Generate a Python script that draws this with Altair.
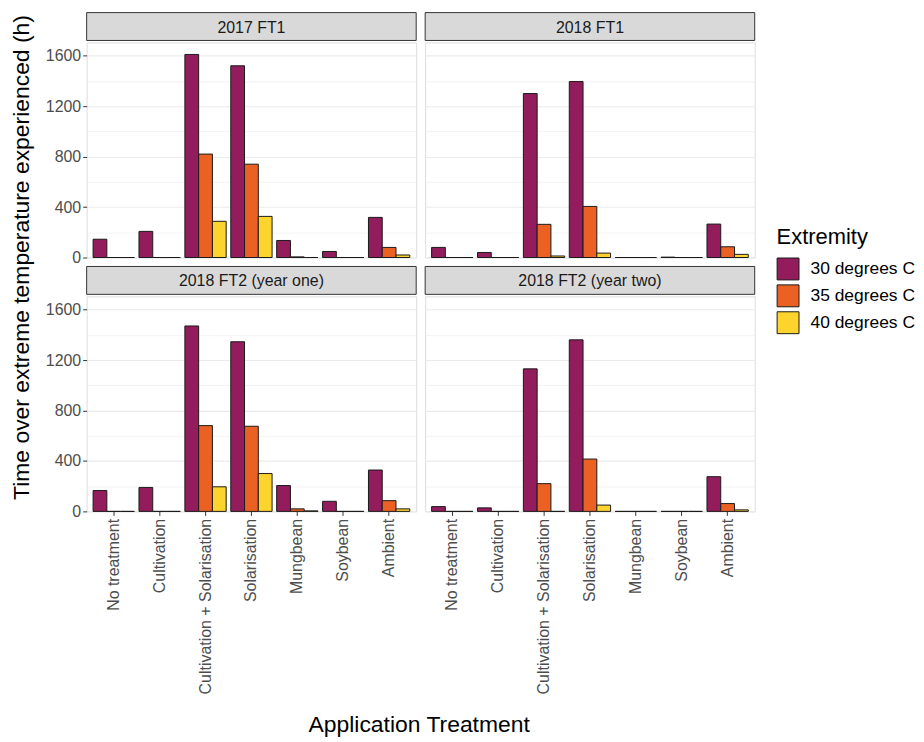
import altair as alt
import pandas as pd

treatments = ["No treatment", "Cultivation", "Cultivation + Solarisation",
              "Solarisation", "Mungbean", "Soybean", "Ambient"]
extremities = ["30 degrees C", "35 degrees C", "40 degrees C"]
colors = ["#921C5C", "#EB6123", "#FDD42E"]

panel_names = ["2017 FT1", "2018 FT1", "2018 FT2 (year one)", "2018 FT2 (year two)"]

ft1_2017_30 = [145, 207, 1610, 1520, 135, 48, 318]
ft1_2017_35 = [0, 0, 820, 740, 5, 0, 80]
ft1_2017_40 = [0, 0, 287, 326, 0, 0, 20]

ft1_2018_30 = [80, 40, 1300, 1395, 0, 3, 265]
ft1_2018_35 = [0, 0, 263, 405, 0, 0, 85]
ft1_2018_40 = [0, 0, 12, 35, 0, 0, 25]

ft2y1_2018_30 = [165, 190, 1470, 1345, 205, 80, 328]
ft2y1_2018_35 = [0, 0, 680, 675, 20, 0, 85]
ft2y1_2018_40 = [0, 0, 195, 300, 4, 0, 20]

ft2y2_2018_30 = [38, 28, 1130, 1360, 0, 0, 275]
ft2y2_2018_35 = [0, 0, 220, 415, 0, 0, 62]
ft2y2_2018_40 = [0, 0, 0, 50, 0, 0, 12]

series = [
    (ft1_2017_30, ft1_2017_35, ft1_2017_40),
    (ft1_2018_30, ft1_2018_35, ft1_2018_40),
    (ft2y1_2018_30, ft2y1_2018_35, ft2y1_2018_40),
    (ft2y2_2018_30, ft2y2_2018_35, ft2y2_2018_40),
]

FONT = "Liberation Sans"
W = 331
H = 216
SH = 28
YMAX = 1705


def make_df(vals):
    rows = []
    for ext, arr in zip(extremities, vals):
        for t, v in zip(treatments, arr):
            rows.append({"Treatment": t, "Extremity": ext, "Hours": v})
    return pd.DataFrame(rows)


major = "datum.value % 400 === 0"

legend = alt.Legend(
    title="Extremity", orient="none", legendX=770, legendY=215,
    titleFont=FONT, titleFontSize=22, titleFontWeight="normal",
    titleColor="#000000", labelFont=FONT, labelFontSize=17.5,
    labelColor="#000000", symbolType="square", symbolSize=484,
    symbolStrokeColor="#1A1A1A", symbolStrokeWidth=1,
    symbolOpacity=1, rowPadding=0, labelOffset=11, titlePadding=9,
)


def make_panel(name, vals, show_y, show_x):
    strip_df = pd.DataFrame({"label": [name]})
    strip_bg = alt.Chart(strip_df).mark_rect(
        fill="#D9D9D9", stroke="#333333", strokeWidth=1
    ).encode(x=alt.value(0), x2=alt.value(W), y=alt.value(0), y2=alt.value(SH))
    strip_txt = alt.Chart(strip_df).mark_text(
        font=FONT, fontSize=16, color="#1A1A1A", baseline="middle", align="center"
    ).encode(x=alt.value(W / 2), y=alt.value(SH / 2 + 1), text="label:N")
    strip = (strip_bg + strip_txt).properties(
        width=W, height=SH, view=alt.ViewBackground(strokeOpacity=0)
    )

    if show_y:
        yaxis = alt.Axis(
            values=list(range(0, 1601, 200)),
            labelExpr="datum.value % 400 === 0 ? datum.value : ''",
            title=None, domain=False, labelFont=FONT, labelFontSize=16,
            labelColor="#4D4D4D", tickColor="#333333", tickSize=4,
            tickOpacity={"condition": {"test": major, "value": 1}, "value": 0},
            gridColor="#EBEBEB",
            gridWidth={"condition": {"test": major, "value": 1.1}, "value": 0.6},
            labelPadding=2,
        )
    else:
        yaxis = alt.Axis(
            values=list(range(0, 1601, 200)), labels=False, ticks=False,
            title=None, domain=False, gridColor="#EBEBEB", minExtent=0, maxExtent=0,
            gridWidth={"condition": {"test": major, "value": 1.1}, "value": 0.6},
        )

    if show_x:
        xaxis = alt.Axis(
            title=None, domain=False, labelAngle=270, labelFont=FONT,
            labelFontSize=16, labelColor="#4D4D4D", tickColor="#333333",
            tickSize=4, gridColor="#EBEBEB", gridWidth=1.1, bandPosition=0.5,
            labelPadding=3, labelBaseline="middle", labelAlign="right",
        )
    else:
        xaxis = alt.Axis(
            title=None, domain=False, labels=False, ticks=False, minExtent=0, maxExtent=0,
            gridColor="#EBEBEB", gridWidth=1.1, bandPosition=0.5,
        )

    bars = alt.Chart(make_df(vals)).mark_bar(
        stroke="#1A1A1A", strokeWidth=1, opacity=1
    ).encode(
        x=alt.X("Treatment:N", sort=treatments,
                scale=alt.Scale(domain=treatments, paddingInner=0.1, paddingOuter=0.14),
                axis=xaxis),
        xOffset=alt.XOffset("Extremity:N", sort=extremities,
                            scale=alt.Scale(domain=extremities, paddingInner=0, paddingOuter=0)),
        y=alt.Y("Hours:Q", scale=alt.Scale(domain=[0, YMAX], nice=False, zero=True),
                axis=yaxis),
        color=alt.Color("Extremity:N", sort=extremities,
                        scale=alt.Scale(domain=extremities, range=colors),
                        legend=legend),
    ).properties(width=W, height=H)

    return alt.vconcat(strip, bars, spacing=0)


p1 = make_panel(panel_names[0], series[0], True, False)
p2 = make_panel(panel_names[1], series[1], False, False)
p3 = make_panel(panel_names[2], series[2], True, True)
p4 = make_panel(panel_names[3], series[3], False, True)

row1 = alt.hconcat(p1, p2, spacing=7)
row2 = alt.hconcat(p3, p4, spacing=7)
grid = alt.vconcat(row1, row2, spacing=-3)

dummy = pd.DataFrame({"a": [0]})
ytitle = alt.Chart(dummy).mark_text(
    font=FONT, fontSize=23, color="#000000", angle=270, align="center", baseline="middle"
).encode(x=alt.value(12), y=alt.value(246),
         text=alt.value("Time over extreme temperature experienced (h)")).properties(
    width=24, height=494, view=alt.ViewBackground(strokeOpacity=0))

xtitle = alt.Chart(dummy).mark_text(
    font=FONT, fontSize=23, color="#000000", align="center", baseline="middle"
).encode(x=alt.value(W + 3), y=alt.value(11),
         text=alt.value("Application Treatment")).properties(
    width=2 * W + 7, height=18, view=alt.ViewBackground(strokeOpacity=0))

right = alt.vconcat(grid, xtitle, spacing=19)
chart = alt.hconcat(ytitle, right, spacing=9).properties(
    padding={"left": 2, "top": 2, "right": 0, "bottom": 0}
).configure_view(stroke="#333333", strokeWidth=1).configure(background="white")

chart.save("out.html", embed_options={"renderer": "svg", "actions": False})
